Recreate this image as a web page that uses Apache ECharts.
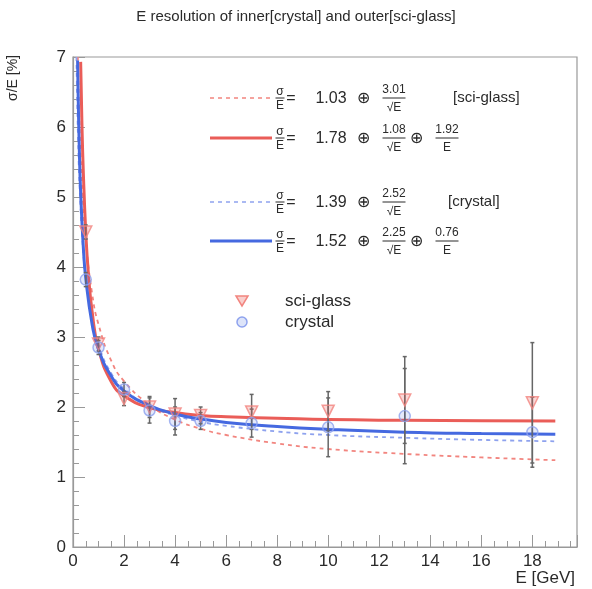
<!DOCTYPE html>
<html>
<head>
<meta charset="utf-8">
<script src="https://cdn.jsdelivr.net/npm/echarts@6/dist/echarts.min.js"></script>
<style>
  html, body { margin: 0; padding: 0; background: #fff; }
  #chart { width: 592px; height: 589px; }
</style>
</head>
<body>
<div id="chart"></div>
<script>
// measured points
var energy = [0.5, 1, 2, 3, 4, 5, 7, 10, 13, 18];
var sciGlass = [4.5, 2.9, 2.12, 2.0, 1.9, 1.88, 1.93, 1.94, 2.1, 2.06];
var sciGlassErr = [0.1, 0.1, 0.1, 0.15, 0.22, 0.12, 0.25, 0.28, 0.62, 0.86];
var crystal = [3.82, 2.85, 2.25, 1.95, 1.8, 1.8, 1.77, 1.71, 1.87, 1.64];
var crystalErr = [0.1, 0.1, 0.1, 0.18, 0.2, 0.12, 0.2, 0.42, 0.68, 0.5];

// fit curves
var sciFit1E = [0.19, 0.25, 0.3, 0.4, 0.5, 0.75, 1, 1.5, 2, 3, 4, 5, 6, 8, 10, 13, 16, 18.9];
var sciFit1Y = [7.0, 6.11, 5.6, 4.87, 4.38, 3.62, 3.18, 2.66, 2.37, 2.03, 1.82, 1.69, 1.6, 1.48, 1.4, 1.33, 1.28, 1.24];
var sciFit2E = [0.3, 0.35, 0.4, 0.5, 0.6, 0.75, 1, 1.5, 2, 3, 4, 5, 6, 8, 10, 13, 16, 18.9];
var sciFit2Y = [6.93, 6.05, 5.4, 4.5, 3.92, 3.36, 2.83, 2.36, 2.16, 1.99, 1.92, 1.88, 1.86, 1.84, 1.82, 1.81, 1.805, 1.8];
var cryFit1E = [0.135, 0.2, 0.3, 0.4, 0.5, 0.75, 1, 1.5, 2, 3, 4, 5, 6, 8, 10, 13, 16, 18.9];
var cryFit1Y = [7.0, 5.8, 4.81, 4.22, 3.82, 3.22, 2.88, 2.48, 2.26, 2.01, 1.88, 1.79, 1.73, 1.65, 1.6, 1.56, 1.53, 1.51];
var cryFit2E = [0.18, 0.2, 0.25, 0.3, 0.4, 0.5, 0.75, 1, 1.5, 2, 3, 4, 5, 6, 8, 10, 13, 16, 18.9];
var cryFit2Y = [6.95, 6.49, 5.64, 5.06, 4.31, 3.84, 3.18, 2.82, 2.44, 2.23, 2.02, 1.9, 1.83, 1.78, 1.72, 1.68, 1.64, 1.62, 1.61];

var xTicks = [0, 2, 4, 6, 8, 10, 12, 14, 16, 18];

var RED = '#ea5d58';
var RED_LIGHT = '#f2857f';
var BLUE = '#4569e0';
var BLUE_LIGHT = '#8ea2ee';
var TXT = '#2a2a2a';

function pairs(xs, ys) {
    return xs.map(function (x, i) { return [x, ys[i]]; });
}

function errData(vals, errs) {
    return energy.map(function (e, i) { return [e, vals[i] - errs[i], vals[i] + errs[i]]; });
}

function renderErr(params, api) {
    var lo = api.coord([api.value(0), api.value(1)]);
    var hi = api.coord([api.value(0), api.value(2)]);
    var st = {stroke: '#666', lineWidth: 1.5};
    return {
        type: 'group',
        children: [
            {type: 'line', shape: {x1: lo[0], y1: lo[1], x2: hi[0], y2: hi[1]}, style: st},
            {type: 'line', shape: {x1: lo[0] - 2, y1: lo[1], x2: lo[0] + 2, y2: lo[1]}, style: st},
            {type: 'line', shape: {x1: hi[0] - 2, y1: hi[1], x2: hi[0] + 2, y2: hi[1]}, style: st}
        ]
    };
}

// legend pieces
var FAM = '"Liberation Sans", Arial, sans-serif';
var FONT = '16px ' + FAM;
var SMALL = '12px ' + FAM;

function txt(s, x, y, font, align) {
    return {type: 'text', style: {text: s, x: x, y: y, font: font || FONT, fill: TXT,
        align: align || 'left', verticalAlign: 'middle'}};
}

function frac(num, den, cx, cy, w, up, down) {
    return [
        txt(num, cx, cy - up, SMALL, 'center'),
        {type: 'line', shape: {x1: cx - w / 2, y1: cy, x2: cx + w / 2, y2: cy}, style: {stroke: TXT, lineWidth: 1}},
        txt(den, cx, cy + down, SMALL, 'center')
    ];
}

function sample(y, color, width, dashed) {
    return {type: 'line', shape: {x1: 210, y1: y, x2: 272, y2: y},
        style: {stroke: color, lineWidth: width, lineDash: dashed ? [4, 4] : null}};
}

var legend = [];
var rows = [
    {y: 98, color: RED_LIGHT, w: 1.5, dash: true, c: '1.03', a: '3.01', b: null, tag: '[sci-glass]', tx: 453},
    {y: 138, color: RED, w: 3, dash: false, c: '1.78', a: '1.08', b: '1.92', tag: null},
    {y: 202, color: BLUE_LIGHT, w: 1.5, dash: true, c: '1.39', a: '2.52', b: null, tag: '[crystal]', tx: 448},
    {y: 241, color: BLUE, w: 3, dash: false, c: '1.52', a: '2.25', b: '0.76', tag: null}
];
rows.forEach(function (r) {
    legend.push(sample(r.y, r.color, r.w, r.dash));
    legend = legend.concat(frac('σ', 'E', 280, r.y, 9, 6, 8));
    legend.push(txt('=', 291, r.y + 1, FONT, 'center'));
    legend.push(txt(r.c, 331, r.y + 1, FONT, 'center'));
    legend.push(txt('⊕', 363, r.y + 1, FONT, 'center'));
    legend = legend.concat(frac(r.a, '√E', 394, r.y, 23, 8, 10));
    if (r.b) {
        legend.push(txt('⊕', 416, r.y + 1, FONT, 'center'));
        legend = legend.concat(frac(r.b, 'E', 447, r.y, 23, 8, 10));
    }
    if (r.tag) {
        legend.push(txt(r.tag, r.tx, r.y, '15px ' + FAM));
    }
});
legend.push({type: 'polygon', shape: {points: [[236, 296], [248, 296], [242, 306]]},
    style: {fill: 'rgba(236,95,90,0.3)', stroke: RED_LIGHT, lineWidth: 1.5}});
legend.push({type: 'circle', shape: {cx: 242, cy: 322, r: 5},
    style: {fill: 'rgba(69,105,224,0.18)', stroke: BLUE_LIGHT, lineWidth: 1.5}});
legend.push(txt('sci-glass', 285, 301, '17px ' + FAM));
legend.push(txt('crystal', 285, 322, '17px ' + FAM));
// y axis title
legend.push({type: 'text', x: 13, y: 78, rotation: Math.PI / 2,
    style: {text: 'σ/E [%]', font: '14px ' + FAM, fill: TXT, align: 'center', verticalAlign: 'middle'}});

var chart = echarts.init(document.getElementById('chart'));
var options = {
    animation: false,
    title: {
        text: 'E resolution of inner[crystal] and outer[sci-glass]',
        left: 'center',
        top: 4,
        textStyle: {fontSize: 15, fontWeight: 'normal', color: TXT, fontFamily: 'Liberation Sans'}
    },
    grid: {left: 73, right: 15, top: 57, bottom: 42, show: true, borderColor: '#999', borderWidth: 1.2},
    xAxis: {
        type: 'value',
        min: 0,
        max: 19.75,
        interval: 2,
        name: 'E [GeV]',
        nameLocation: 'end',
        nameGap: -2,
        nameTextStyle: {fontSize: 17, color: TXT, align: 'right', verticalAlign: 'top', padding: [23, 0, 0, 0]},
        axisLine: {lineStyle: {color: '#999', width: 1.2}},
        axisTick: {inside: true, length: 12, lineStyle: {color: '#999'}},
        minorTick: {show: true, splitNumber: 4, length: 6, lineStyle: {color: '#999'}},
        splitLine: {show: false},
        axisLabel: {fontSize: 17, color: TXT, margin: 6, showMaxLabel: false,
            formatter: function (v) { return xTicks.indexOf(v) >= 0 ? String(v) : ''; }}
    },
    yAxis: {
        type: 'value',
        min: 0,
        max: 7,
        interval: 1,
        axisLine: {show: true, lineStyle: {color: '#999', width: 1.2}},
        axisTick: {show: true, inside: true, length: 12, lineStyle: {color: '#999'}},
        minorTick: {show: true, splitNumber: 5, length: 6, lineStyle: {color: '#999'}},
        splitLine: {show: false},
        axisLabel: {fontSize: 17, color: TXT, margin: 7}
    },
    graphic: legend,
    series: [
        {type: 'line', data: pairs(sciFit1E, sciFit1Y), smooth: true, symbol: 'none',
            lineStyle: {color: RED_LIGHT, width: 1.8, type: [4, 4]}},
        {type: 'line', data: pairs(cryFit1E, cryFit1Y), smooth: true, symbol: 'none',
            lineStyle: {color: BLUE_LIGHT, width: 1.8, type: [4, 4]}},
        {type: 'line', data: pairs(sciFit2E, sciFit2Y), smooth: true, symbol: 'none',
            lineStyle: {color: RED, width: 3}},
        {type: 'line', data: pairs(cryFit2E, cryFit2Y), smooth: true, symbol: 'none',
            lineStyle: {color: BLUE, width: 3}},
        {type: 'custom', data: errData(sciGlass, sciGlassErr), renderItem: renderErr, z: 5},
        {type: 'custom', data: errData(crystal, crystalErr), renderItem: renderErr, z: 5},
        {type: 'scatter', data: pairs(energy, sciGlass), symbol: 'triangle', symbolRotate: 180, symbolSize: 12,
            itemStyle: {color: 'rgba(236,95,90,0.3)', borderColor: RED_LIGHT, borderWidth: 1.5}, z: 6},
        {type: 'scatter', data: pairs(energy, crystal), symbol: 'circle', symbolSize: 11,
            itemStyle: {color: 'rgba(69,105,224,0.18)', borderColor: BLUE_LIGHT, borderWidth: 1.5}, z: 6}
    ]
};
chart.setOption(options);
</script>
</body>
</html>
